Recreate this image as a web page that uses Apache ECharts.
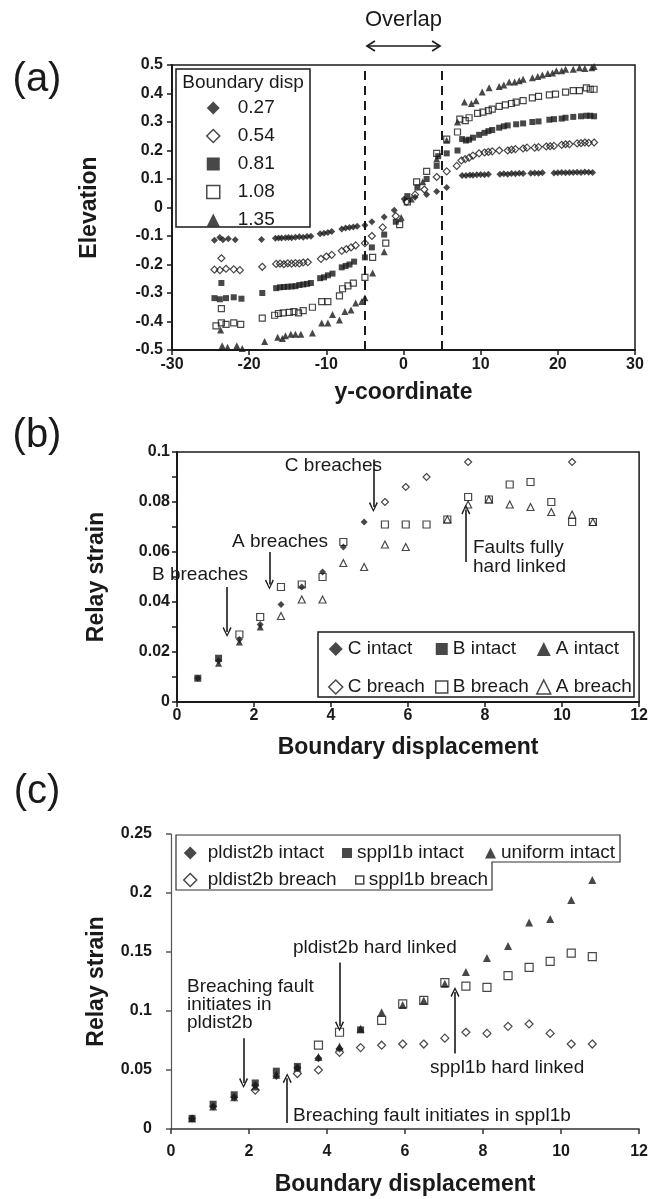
<!DOCTYPE html>
<html><head><meta charset="utf-8">
<script src="https://cdn.jsdelivr.net/npm/echarts@6/dist/echarts.min.js"></script>
<style>html,body{margin:0;padding:0;background:#fff}#c{width:651px;height:1199px}</style>
</head><body><div id="c"></div>
<script>
// ---------- Panel (a): elevation vs y-coordinate ----------
const dispLabels = ['0.27','0.54','0.81','1.08','1.35'];
const disp027 = [[-24.5,-0.115],[-23.8,-0.105],[-23.4,-0.113],[-22.7,-0.11],[-21.8,-0.113],[-18.4,-0.112],[-16.6,-0.108],[-16.2,-0.107],[-15.8,-0.107],[-15.3,-0.106],[-14.9,-0.105],[-14.5,-0.106],[-14.0,-0.104],[-13.5,-0.103],[-13.0,-0.104],[-12.5,-0.102],[-12.0,-0.101],[-10.8,-0.092],[-10.3,-0.09],[-9.8,-0.088],[-9.3,-0.084],[-8.0,-0.075],[-7.5,-0.072],[-7.0,-0.07],[-6.5,-0.068],[-6.0,-0.066],[-5.0,-0.062],[-4.1,-0.05],[-2.5,-0.033],[-1.2,-0.01],[0.1,0.03],[1.5,0.036],[3.0,0.046],[4.3,0.056],[5.6,0.07],[7.6,0.112],[8.1,0.112],[8.6,0.114],[9.0,0.113],[9.5,0.115],[10.0,0.116],[10.5,0.115],[11.0,0.117],[12.5,0.117],[13.0,0.118],[13.5,0.117],[14.0,0.119],[14.5,0.118],[15.0,0.12],[15.5,0.119],[16.5,0.12],[17.0,0.121],[17.5,0.12],[18.0,0.122],[19.5,0.121],[20.0,0.122],[20.5,0.123],[21.0,0.122],[21.5,0.123],[22.0,0.123],[22.5,0.124],[23.0,0.123],[23.5,0.125],[24.0,0.124],[24.5,0.123]];
const disp054 = [[-24.5,-0.218],[-23.8,-0.22],[-23.6,-0.178],[-23.0,-0.215],[-22.0,-0.217],[-21.2,-0.22],[-18.3,-0.208],[-16.5,-0.198],[-16.0,-0.197],[-15.5,-0.199],[-15.0,-0.196],[-14.5,-0.197],[-14.0,-0.195],[-13.5,-0.196],[-13.0,-0.193],[-12.4,-0.192],[-10.7,-0.18],[-10.0,-0.172],[-9.3,-0.166],[-8.0,-0.152],[-7.4,-0.146],[-6.8,-0.14],[-6.2,-0.133],[-5.0,-0.125],[-4.1,-0.1],[-2.7,-0.07],[-1.0,-0.03],[0.4,0.02],[1.5,0.045],[2.7,0.063],[4.3,0.107],[5.6,0.127],[6.9,0.146],[7.5,0.165],[8.0,0.17],[8.5,0.175],[9.0,0.182],[9.8,0.19],[10.5,0.193],[11.0,0.195],[11.5,0.197],[12.4,0.2],[13.5,0.2],[14.0,0.203],[14.5,0.205],[15.5,0.207],[16.0,0.21],[17.0,0.21],[17.5,0.212],[18.5,0.214],[19.0,0.215],[19.5,0.216],[20.5,0.22],[21.0,0.222],[21.5,0.222],[22.5,0.225],[23.0,0.226],[23.5,0.228],[24.0,0.227],[24.7,0.228]];
const disp081 = [[-23.6,-0.265],[-24.5,-0.318],[-23.8,-0.322],[-23.0,-0.318],[-22.0,-0.315],[-21.0,-0.32],[-18.3,-0.30],[-16.5,-0.283],[-16.0,-0.28],[-15.5,-0.279],[-15.0,-0.278],[-14.5,-0.277],[-14.0,-0.276],[-13.5,-0.272],[-13.0,-0.27],[-12.5,-0.268],[-12.0,-0.265],[-10.8,-0.248],[-10.3,-0.245],[-9.8,-0.238],[-9.2,-0.232],[-8.0,-0.21],[-7.5,-0.205],[-7.0,-0.2],[-6.4,-0.19],[-5.0,-0.175],[-4.1,-0.14],[-2.5,-0.095],[-1.0,-0.05],[0.5,0.04],[1.8,0.07],[3.0,0.10],[4.3,0.146],[4.5,0.18],[5.6,0.19],[7.0,0.2],[7.6,0.24],[8.1,0.235],[8.5,0.238],[9.0,0.245],[9.8,0.255],[10.5,0.262],[11.0,0.268],[11.5,0.272],[12.4,0.28],[13.0,0.285],[13.5,0.288],[14.6,0.292],[15.5,0.295],[16.7,0.30],[17.5,0.302],[18.9,0.308],[19.5,0.31],[20.5,0.312],[21.0,0.315],[22.0,0.318],[23.0,0.32],[23.7,0.322],[24.2,0.322],[24.7,0.32]];
const disp108 = [[-23.6,-0.355],[-24.3,-0.415],[-23.6,-0.405],[-23.0,-0.41],[-22.0,-0.405],[-21.1,-0.41],[-18.3,-0.388],[-16.7,-0.378],[-16.2,-0.372],[-15.6,-0.37],[-14.8,-0.368],[-14.2,-0.365],[-13.6,-0.37],[-13.0,-0.362],[-11.8,-0.35],[-10.6,-0.33],[-9.8,-0.33],[-8.3,-0.31],[-7.9,-0.285],[-7.2,-0.275],[-6.5,-0.265],[-5.0,-0.245],[-4.0,-0.175],[-2.3,-0.125],[-0.5,-0.06],[0.5,0.02],[1.7,0.09],[3.0,0.127],[4.3,0.19],[5.6,0.24],[7.0,0.265],[7.3,0.31],[8.0,0.305],[8.5,0.315],[9.6,0.33],[10.3,0.335],[11.0,0.34],[11.5,0.345],[12.4,0.355],[13.2,0.36],[14.0,0.365],[14.6,0.37],[15.5,0.375],[16.7,0.385],[17.5,0.39],[18.9,0.395],[19.7,0.398],[21.0,0.405],[22.0,0.41],[22.8,0.41],[23.7,0.42],[24.2,0.415],[24.7,0.415]];
const disp135 = [[-23.7,-0.43],[-23.5,-0.485],[-22.8,-0.49],[-21.6,-0.485],[-20.9,-0.495],[-18.0,-0.47],[-16.3,-0.455],[-15.7,-0.46],[-15.3,-0.45],[-14.6,-0.445],[-14.0,-0.445],[-13.3,-0.445],[-11.8,-0.44],[-10.6,-0.405],[-9.8,-0.405],[-9.2,-0.375],[-8.3,-0.395],[-7.6,-0.365],[-6.8,-0.36],[-6.2,-0.335],[-5.4,-0.33],[-5.0,-0.317],[-4.0,-0.23],[-2.5,-0.155],[-0.3,-0.035],[1.0,0.03],[2.5,0.09],[4.3,0.17],[5.6,0.236],[7.0,0.30],[7.9,0.37],[8.8,0.365],[9.4,0.375],[10.2,0.405],[11.1,0.42],[12.4,0.425],[13.0,0.43],[13.7,0.44],[14.4,0.44],[15.0,0.445],[15.5,0.45],[16.7,0.455],[17.4,0.46],[18.0,0.465],[18.7,0.47],[19.3,0.472],[19.8,0.48],[20.5,0.48],[21.0,0.485],[22.0,0.485],[22.8,0.49],[23.5,0.488],[24.4,0.49],[24.7,0.495]];
const overlapBounds = [-5, 5];

// ---------- Panel (b): relay strain vs boundary displacement ----------
const bCIntact = [[0.54,0.0095],[1.08,0.0165],[1.62,0.025],[2.16,0.031],[2.7,0.039],[3.24,0.046],[3.78,0.052],[4.32,0.062],[4.86,0.072]];
const bBIntact = [[0.54,0.0095],[1.08,0.0175]];
const bAIntact = [[1.08,0.0155],[1.62,0.024],[2.16,0.030]];
const bCBreach = [[5.4,0.080],[5.94,0.086],[6.48,0.090],[7.56,0.096],[10.26,0.096]];
const bBBreach = [[1.62,0.027],[2.16,0.034],[2.7,0.046],[3.24,0.047],[3.78,0.050],[4.32,0.064],[5.4,0.071],[5.94,0.071],[6.48,0.071],[7.02,0.073],[7.56,0.082],[8.1,0.081],[8.64,0.087],[9.18,0.088],[9.72,0.080],[10.26,0.072],[10.8,0.072]];
const bABreach = [[2.7,0.0344],[3.24,0.041],[3.78,0.041],[4.32,0.0556],[4.86,0.054],[5.4,0.063],[5.94,0.062],[7.02,0.073],[7.56,0.079],[8.1,0.081],[8.64,0.079],[9.18,0.078],[9.72,0.076],[10.26,0.075],[10.8,0.072]];

// ---------- Panel (c) ----------
const cPlIntact = [[0.54,0.009],[1.08,0.019],[1.62,0.027],[2.16,0.037],[2.7,0.045],[3.24,0.052],[3.78,0.060],[4.32,0.068]];
const cSpIntact = [[0.54,0.009],[1.08,0.021],[1.62,0.029],[2.16,0.039],[2.7,0.049],[3.24,0.053],[4.86,0.084]];
const cUnIntact = [[0.54,0.009],[1.08,0.019],[1.62,0.027],[2.16,0.036],[2.7,0.046],[3.24,0.052],[3.78,0.061],[4.32,0.070],[4.86,0.085],[5.4,0.099],[5.94,0.105],[6.48,0.109],[7.02,0.123],[7.56,0.133],[8.1,0.145],[8.64,0.155],[9.18,0.175],[9.72,0.178],[10.26,0.194],[10.8,0.211]];
const cPlBreach = [[2.16,0.033],[3.24,0.047],[3.78,0.050],[4.32,0.065],[4.86,0.069],[5.4,0.071],[5.94,0.072],[6.48,0.072],[7.02,0.077],[7.56,0.082],[8.1,0.081],[8.64,0.087],[9.18,0.089],[9.72,0.081],[10.26,0.072],[10.8,0.072]];
const cSpBreach = [[3.78,0.071],[4.32,0.082],[5.4,0.092],[5.94,0.106],[6.48,0.109],[7.02,0.124],[7.56,0.121],[8.1,0.120],[8.64,0.130],[9.18,0.137],[9.72,0.142],[10.26,0.149],[10.8,0.146]];

const xTicksA = {min:-30, max:30, interval:10};
const yTicksA = {min:-0.5, max:0.5, interval:0.1};
const xTicksBC = {min:0, max:12, interval:2};
const yTicksB = {min:0, max:0.1, interval:0.02};
const yTicksC = {min:0, max:0.25, interval:0.05};

const FONT = 'Liberation Sans, Arial, sans-serif';
const INK = '#1a1a1a';
const chart = echarts.init(document.getElementById('c'), null, {renderer:'canvas'});

const P_DIAMOND = 'path://M5,0L10,5L5,10L0,5Z';
const P_SQUARE = 'path://M0,0L10,0L10,10L0,10Z';
const P_TRI = 'path://M5,0L10,10L0,10Z';

function filled(sym, size){ return {symbol:sym, symbolSize:size, itemStyle:{color:INK, borderColor:INK, borderWidth:0}}; }
function open(sym, size){ return {symbol:sym, symbolSize:size, itemStyle:{color:'rgba(255,255,255,0)', borderColor:INK, borderWidth:1.2}}; }
function sc(name, data, gi, look, extra){
  return Object.assign({type:'scatter', name, data, xAxisIndex:gi, yAxisIndex:gi, silent:true, animation:false}, look, extra||{});
}
const chev = 'path://M5,0L10,9L8.6,10L5,2.6L1.4,10L0,9Z';
function arrows(list){
  return {silent:true, animation:false, symbol:['none', chev], symbolSize:[9,10], label:{show:false},
    lineStyle:{color:INK, width:1.6, type:'solid'},
    data:list.map(a=>[{coord:[a[0],a[1]]},{coord:[a[2],a[3]]}])};
}
const tickLbl = (m)=>({fontFamily:FONT, fontWeight:'bold', fontSize:16, color:INK, margin:m});
const nameSt = {fontFamily:FONT, fontWeight:'bold', fontSize:23, color:INK};
const axLine = (w,c)=>({show:true, onZero:false, lineStyle:{color:c||INK, width:w}});
const tick = (c)=>({show:true, inside:false, length:5, lineStyle:{color:c||INK, width:1.5}});
const FILL = {color:INK, borderWidth:0};
const HOLLOW = {color:'#fff', borderColor:INK, borderWidth:1.5};
const legTxt = (fs, pad)=>({fontFamily:FONT, fontSize:fs, color:INK, lineHeight:20, rich:{t:{fontFamily:FONT, fontSize:fs, color:INK, lineHeight:20, padding:[0,0,0,pad||0]}}});
const padFmt = '{t|{name}}';

const option = {
  animation:false,
  backgroundColor:'#fff',
  grid:[
    {left:172, top:65, width:463, height:285, show:true, borderColor:INK, borderWidth:1.5},
    {left:177, top:452, width:463, height:250, show:true, borderColor:INK, borderWidth:1.5},
    {left:171, top:834, width:472, height:295, show:false}
  ],
  xAxis:[
    Object.assign({type:'value', gridIndex:0, name:'y-coordinate', nameLocation:'middle', nameGap:31, nameTextStyle:nameSt,
      axisLine:axLine(2), axisTick:tick(), splitLine:{show:false}, axisLabel:tickLbl(7)}, xTicksA),
    Object.assign({type:'value', gridIndex:1, name:'Boundary displacement', nameLocation:'middle', nameGap:34, nameTextStyle:nameSt,
      axisLine:axLine(2), axisTick:tick(), splitLine:{show:false}, axisLabel:tickLbl(6)}, xTicksBC),
    Object.assign({type:'value', gridIndex:2, name:'Boundary displacement', nameLocation:'middle', nameGap:44, nameTextStyle:nameSt,
      axisLine:axLine(1.5,'#333'), axisTick:tick('#333'), splitLine:{show:false}, axisLabel:tickLbl(15)}, xTicksBC)
  ],
  yAxis:[
    Object.assign({type:'value', gridIndex:0, name:'Elevation', nameLocation:'middle', nameGap:71, nameTextStyle:nameSt,
      axisLine:axLine(2), axisTick:tick(), splitLine:{show:false},
      axisLabel:Object.assign(tickLbl(9), {formatter:v=>Math.abs(v)<1e-9?'0':String(+v.toFixed(1))})}, yTicksA),
    Object.assign({type:'value', gridIndex:1, name:'Relay strain', nameLocation:'middle', nameGap:69, nameTextStyle:nameSt,
      axisLine:axLine(2), axisTick:tick(), splitLine:{show:false}, minorTick:{show:true, splitNumber:2, length:5, lineStyle:{color:INK,width:1.5}},
      axisLabel:Object.assign(tickLbl(7), {formatter:v=>Math.abs(v)<1e-9?'0':String(+v.toFixed(2))})}, yTicksB),
    Object.assign({type:'value', gridIndex:2, name:'Relay strain', nameLocation:'middle', nameGap:63, nameTextStyle:nameSt,
      axisLine:axLine(1.2,'#555'), axisTick:tick('#555'), splitLine:{show:false},
      axisLabel:Object.assign(tickLbl(19), {formatter:v=>Math.abs(v)<1e-9?'0':String(+v.toFixed(2))})}, yTicksC)
  ],
  legend:[
    {orient:'vertical', left:201, top:93, itemWidth:13, itemHeight:13, itemGap:8, selectedMode:false,
      textStyle:legTxt(19, 13), formatter:padFmt,
      data:[
        {name:dispLabels[0], icon:P_DIAMOND, itemStyle:FILL},
        {name:dispLabels[1], icon:P_DIAMOND, itemStyle:HOLLOW},
        {name:dispLabels[2], icon:P_SQUARE, itemStyle:FILL},
        {name:dispLabels[3], icon:P_SQUARE, itemStyle:HOLLOW},
        {name:dispLabels[4], icon:P_TRI, itemStyle:FILL}
      ]},
    {orient:'vertical', left:323, top:634, itemWidth:14, itemHeight:14, itemGap:18, selectedMode:false,
      textStyle:legTxt(19),
      data:[{name:'C intact', icon:P_DIAMOND, itemStyle:FILL},{name:'C breach', icon:P_DIAMOND, itemStyle:HOLLOW}]},
    {orient:'vertical', left:430, top:634, itemWidth:12, itemHeight:12, itemGap:18, selectedMode:false,
      textStyle:legTxt(19),
      data:[{name:'B intact', icon:P_SQUARE, itemStyle:FILL},{name:'B breach', icon:P_SQUARE, itemStyle:HOLLOW}]},
    {orient:'vertical', left:531, top:634, itemWidth:14, itemHeight:14, itemGap:18, selectedMode:false,
      textStyle:legTxt(19),
      data:[{name:'A intact', icon:P_TRI, itemStyle:FILL},{name:'A breach', icon:P_TRI, itemStyle:HOLLOW}]},
    {orient:'vertical', left:178, top:838, itemWidth:13, itemHeight:13, itemGap:7, selectedMode:false,
      textStyle:legTxt(19, 6), formatter:padFmt,
      data:[{name:'pldist2b intact', icon:P_DIAMOND, itemStyle:FILL},{name:'pldist2b breach', icon:P_DIAMOND, itemStyle:HOLLOW}]},
    {orient:'vertical', left:337, top:838, itemWidth:10, itemHeight:10, selectedMode:false,
      textStyle:legTxt(19),
      data:[{name:'sppl1b intact', icon:P_SQUARE, itemStyle:FILL}]},
    {orient:'vertical', left:350, top:865, itemWidth:8, itemHeight:8, selectedMode:false,
      textStyle:legTxt(19),
      data:[{name:'sppl1b breach', icon:P_SQUARE, itemStyle:HOLLOW}]},
    {orient:'vertical', left:480, top:838, itemWidth:11, itemHeight:11, selectedMode:false,
      textStyle:legTxt(19),
      data:[{name:'uniform intact', icon:P_TRI, itemStyle:FILL}]}
  ],
  series:[
    sc(dispLabels[0], disp027, 0, filled('diamond',7), {markLine:{silent:true, animation:false, symbol:['none','none'], label:{show:false},
      lineStyle:{color:INK, width:2, type:[9,6]}, data:overlapBounds.map(v=>({xAxis:v}))}}),
    sc(dispLabels[1], disp054, 0, open('diamond',7)),
    sc(dispLabels[2], disp081, 0, filled('rect',6)),
    sc(dispLabels[3], disp108, 0, open('rect',6)),
    sc(dispLabels[4], disp135, 0, filled('triangle',7)),

    sc('A breach', bABreach, 1, open('triangle',7), {markLine:arrows([[1.3,0.046,1.3,0.028],[2.4,0.06,2.4,0.047],[5.1,0.097,5.1,0.078],[7.5,0.056,7.5,0.077]])}),
    sc('B breach', bBBreach, 1, open('rect',7)),
    sc('C breach', bCBreach, 1, open('diamond',7)),
    sc('A intact', bAIntact, 1, filled('triangle',7)),
    sc('B intact', bBIntact, 1, filled('rect',7)),
    sc('C intact', bCIntact, 1, filled('diamond',7)),

    sc('pldist2b breach', cPlBreach, 2, open('diamond',8), {markLine:arrows([[4.32,0.141,4.32,0.087],[1.86,0.077,1.86,0.039],[2.98,0.005,2.98,0.043],[7.28,0.064,7.28,0.116]])}),
    sc('sppl1b breach', cSpBreach, 2, open('rect',8)),
    sc('pldist2b intact', cPlIntact, 2, filled('diamond',8)),
    sc('sppl1b intact', cSpIntact, 2, filled('rect',7)),
    sc('uniform intact', cUnIntact, 2, filled('triangle',8))
  ]
};
chart.setOption(option);

// annotation layer (overlap arrow position derived from the axis scale)
const pL = chart.convertToPixel({gridIndex:0}, [overlapBounds[0], 0.5]);
const pR = chart.convertToPixel({gridIndex:0}, [overlapBounds[1], 0.5]);
const ay = 46;
const txt = (x,y,s,o)=>({type:'text', x, y, style:Object.assign({text:s, font:'19px '+FONT, fill:INK, textVerticalAlign:'middle'}, o||{})});
chart.setOption({graphic:[
  txt(37, 80, '(a)', {font:'40px '+FONT, textAlign:'center'}),
  txt(37, 436, '(b)', {font:'40px '+FONT, textAlign:'center'}),
  txt(37, 792, '(c)', {font:'40px '+FONT, textAlign:'center'}),
  txt((pL[0]+pR[0])/2, 20, 'Overlap', {font:'22px '+FONT, textAlign:'center'}),
  {type:'line', shape:{x1:pL[0]+2, y1:ay, x2:pR[0]-2, y2:ay}, style:{stroke:INK, lineWidth:1.6}},
  {type:'polyline', shape:{points:[[pL[0]+10,ay-5],[pL[0]+2,ay],[pL[0]+10,ay+5]]}, style:{stroke:INK, lineWidth:1.6, fill:null}},
  {type:'polyline', shape:{points:[[pR[0]-10,ay-5],[pR[0]-2,ay],[pR[0]-10,ay+5]]}, style:{stroke:INK, lineWidth:1.6, fill:null}},
  {type:'rect', shape:{x:176, y:69, width:134, height:158}, style:{stroke:INK, lineWidth:1.5, fill:null}, z:-1},
  txt(243, 83, 'Boundary disp', {textAlign:'center'}),
  {type:'rect', shape:{x:318, y:632, width:316, height:65}, style:{stroke:INK, lineWidth:1.5, fill:'#fff'}, z:-1},
  txt(152, 575, 'B breaches', {backgroundColor:'#fff'}),
  txt(232, 542, 'A breaches', {backgroundColor:'#fff'}),
  txt(382, 466, 'C breaches', {textAlign:'right', backgroundColor:'#fff'}),
  txt(473, 548, 'Faults fully', {}),
  txt(473, 567, 'hard linked', {}),
  {type:'polygon', shape:{points:[[176,835],[620,835],[620,862],[492,862],[492,890],[176,890]]}, style:{stroke:'#333', lineWidth:1.2, fill:'#fff'}, z:-1},
  txt(293, 948, 'pldist2b hard linked', {}),
  txt(187, 987, 'Breaching fault', {}),
  txt(187, 1005, 'initiates in', {}),
  txt(187, 1023, 'pldist2b', {}),
  txt(293, 1116, 'Breaching fault initiates in sppl1b', {}),
  txt(430, 1068, 'sppl1b hard linked', {})
]});
</script></body></html>
